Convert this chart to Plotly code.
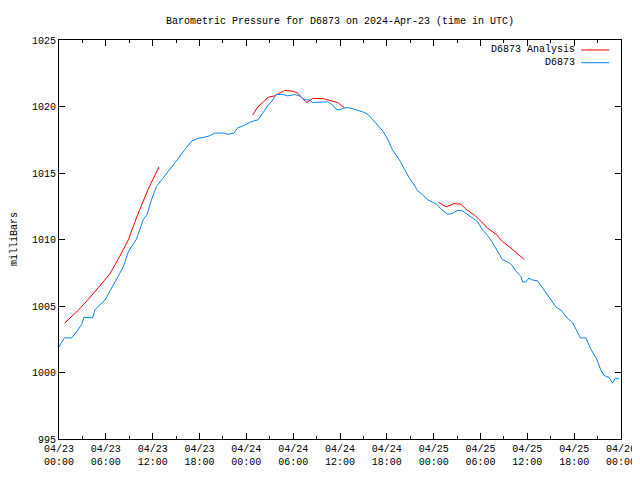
import pandas as pd
import plotly.graph_objects as go

station = "D6873"
start_time = "2024-04-23 00:00"

# Observed pressure (hours since start, milliBars)
obs_hours = [0.0, 0.15, 0.7, 1.6, 2.05, 2.6, 2.9, 3.2, 4.0, 4.3, 4.6, 4.9, 5.9, 6.5, 7.2, 8.2, 8.9,
             9.9, 10.8, 11.3, 11.85, 12.5, 13.3, 14.4, 15.3, 16.1, 17.0, 17.8, 19.1, 19.95,
             21.2, 21.65, 22.4, 22.9, 23.8, 24.6, 25.5, 26.1, 26.8, 27.4, 27.8, 28.7, 29.3,
             30.2, 30.8, 31.5, 32.1, 32.5, 33.8, 34.4, 35.1, 35.5, 35.9, 36.6, 37.2, 38.1,
             38.9, 39.6, 40.6, 41.5, 42.1, 42.7, 43.6, 44.2, 44.9, 45.5, 45.9, 46.6, 47.2,
             47.9, 48.5, 48.9, 49.8, 50.4, 51.1, 51.7, 52.3, 52.9, 53.6, 54.3, 54.9, 55.5,
             56.2, 56.8, 57.5, 58.0, 58.5, 59.2, 59.4, 59.8, 60.2, 60.7, 61.3, 61.9, 62.8,
             63.7, 64.3, 65.1, 65.8, 66.4, 66.8, 67.5, 68.1, 68.9, 69.4, 69.8, 70.5, 70.9,
             71.3, 71.8]
obs_mb = [1001.9, 1002.1, 1002.6, 1002.6, 1002.9, 1003.3, 1003.6, 1004.15, 1004.15, 1004.1,
          1004.7, 1004.9, 1005.45, 1006.1, 1006.9, 1007.9, 1009.1, 1010.0, 1011.5, 1011.9,
          1013.0, 1014.0, 1014.6, 1015.4, 1016.1, 1016.75, 1017.4, 1017.6, 1017.75, 1018.0,
          1018.0, 1017.9, 1018.0, 1018.4, 1018.6, 1018.85, 1019.0, 1019.5, 1020.1, 1020.5,
          1020.9, 1020.9, 1020.8, 1020.9, 1020.8, 1020.5, 1020.5, 1020.3, 1020.3, 1020.35,
          1020.1, 1019.8, 1019.75, 1019.9, 1019.9, 1019.75, 1019.6, 1019.4, 1018.75, 1018.15,
          1017.55, 1016.75, 1016.0, 1015.35, 1014.6, 1014.1, 1013.7, 1013.35, 1013.0, 1012.8,
          1012.6, 1012.3, 1011.9, 1011.95, 1012.2, 1012.15, 1011.9, 1011.6, 1011.35, 1010.7,
          1010.3, 1009.8, 1009.1, 1008.5, 1008.3, 1008.1, 1007.65, 1007.2, 1006.8, 1006.8,
          1007.1, 1006.95, 1006.9, 1006.4, 1005.7, 1004.9, 1004.7, 1004.1, 1003.75, 1003.1,
          1002.6, 1002.6, 1001.8, 1001.0, 1000.2, 999.8, 999.6, 999.2, 999.6, 999.5]

# Analysis pressure (three separate runs; None marks a gap)
ana_hours = [0.7, 2.5, 3.75, 5.0, 6.5, 7.8, 8.9, 10.1, 11.4, 12.8,
             None,
             24.8, 25.5, 26.1, 26.8, 27.6, 28.3, 28.9, 30.0, 30.6, 31.2, 31.75, 32.5, 33.8,
             34.7, 35.7, 36.6,
             None,
             48.6, 49.6, 50.6, 51.5, 52.3, 53.2, 54.1, 54.9, 56.0, 56.8, 57.7, 58.7, 59.6]
ana_mb = [1003.7, 1004.7, 1005.5, 1006.4, 1007.4, 1008.75, 1010.0, 1011.9, 1013.75, 1015.45,
          None,
          1019.35, 1020.0, 1020.3, 1020.7, 1020.8, 1021.0, 1021.2, 1021.15, 1021.0, 1020.6,
          1020.3, 1020.6, 1020.6, 1020.45, 1020.3, 1019.9,
          None,
          1012.8, 1012.45, 1012.7, 1012.65, 1012.2, 1011.85, 1011.35, 1010.85, 1010.4,
          1009.85, 1009.45, 1008.95, 1008.5]

y_range = [995, 1025]
x_range = ["2024-04-23 00:00", "2024-04-26 00:00"]

t0 = pd.Timestamp(start_time)
def to_time(hours):
    return [None if h is None else t0 + pd.Timedelta(hours=h) for h in hours]

RED = "#ff0000"
BLUE = "#0a84ff"
FONT = "Liberation Mono"
FS = 10

# page body has an 8px margin, so the figure is 632x472 to fill the 640x480 window
W, H = 632, 472

fig = go.Figure()
fig.add_trace(go.Scatter(x=to_time(ana_hours), y=ana_mb, mode="lines",
                         line=dict(color=RED, width=1), name=f"{station} Analysis",
                         connectgaps=False, showlegend=False))
fig.add_trace(go.Scatter(x=to_time(obs_hours), y=obs_mb, mode="lines",
                         line=dict(color=BLUE, width=1), name=station, showlegend=False))

# gnuplot-style legend: text then line sample on the right
legend_rows = [(f"{station} Analysis", RED, 0.975), (station, BLUE, 0.943)]
for text, col, yp in legend_rows:
    fig.add_annotation(x=0.922, y=yp, xref="paper", yref="paper", text=text,
                       showarrow=False, xanchor="right", yanchor="middle",
                       font=dict(family=FONT, size=FS, color="black"))
    fig.add_shape(type="line", xref="paper", yref="paper", x0=0.929, x1=0.979,
                  y0=yp, y1=yp, line=dict(color=col, width=1))

fig.add_annotation(x=-0.079, y=0.5, xref="paper", yref="paper", text="milliBars",
                   textangle=-90, showarrow=False, xanchor="center", yanchor="middle",
                   font=dict(family=FONT, size=FS, color="black"))

fig.update_layout(
    width=W, height=H,
    margin=dict(l=51, r=19, t=32, b=41, autoexpand=False),
    paper_bgcolor="white", plot_bgcolor="white",
    font=dict(family=FONT, size=FS, color="black"),
    title=dict(text=f"Barometric Pressure for {station} on 2024-Apr-23 (time in UTC)",
               x=0.5, xref="paper", xanchor="center", y=1 - 12 / H, yref="container",
               yanchor="middle", font=dict(family=FONT, size=FS, color="black")),
    xaxis=dict(type="date", range=x_range, tick0="2024-04-23", dtick=6 * 3600000,
               tickformat="%m/%d<br>%H:%M", ticks="inside", ticklen=6, tickcolor="black",
               showline=True, linecolor="black", linewidth=1, mirror="ticks",
               showgrid=False, zeroline=False, automargin=False,
               minor=dict(dtick=3 * 3600000, ticks="inside", ticklen=3, tickcolor="black",
                          showgrid=False)),
    yaxis=dict(range=y_range, dtick=5, ticks="inside", ticklen=6, tickcolor="black",
               showline=True, linecolor="black", linewidth=1, mirror="ticks",
               showgrid=False, zeroline=False, automargin=False),
)

fig.write_html("out.html")
